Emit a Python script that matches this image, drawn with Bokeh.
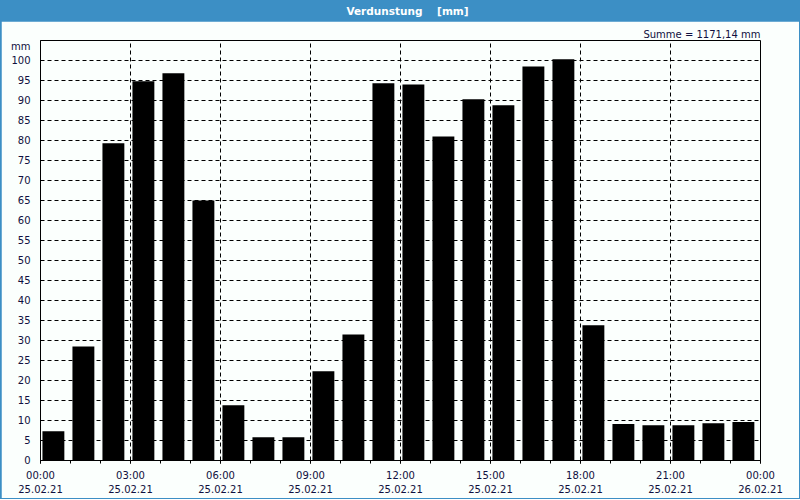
from bokeh.plotting import figure
from bokeh.layouts import column
from bokeh.models import Range1d, FixedTicker, LinearAxis
from bokeh.core.properties import value
from bokeh.embed import file_html
from bokeh.resources import INLINE

# ---- data ----
hours = list(range(24))
verdunstung = [7.3, 28.5, 79.3, 94.8, 96.8, 65.0, 13.8, 5.8, 5.8, 22.3, 31.5, 94.3,
               94.0, 81.0, 90.3, 88.8, 98.5, 100.3, 33.8, 9.1, 8.8, 8.8, 9.3, 9.6]
tick_hours = [0, 3, 6, 9, 12, 15, 18, 21, 24]
tick_times = ["00:00", "03:00", "06:00", "09:00", "12:00", "15:00", "18:00", "21:00", "00:00"]
tick_dates = ["25.02.21"] * 8 + ["26.02.21"]
y_ticks = list(range(0, 101, 5))
title_text = "Verdunstung\u00a0\u00a0\u00a0\u00a0[mm]"
summe_text = "Summe = 1171,14 mm"
unit_text = "mm"

BLUE = "#3c8fc5"
BG = "#fbfffd"
TXT = "#101040"
FONT = "DejaVu Sans"

# ---- title bar ----
top = figure(width=800, height=21, x_range=Range1d(0, 1), y_range=Range1d(0, 1),
             toolbar_location=None, output_backend="svg", min_border=0,
             background_fill_color=BLUE, border_fill_color=BLUE, outline_line_color=None)
top.axis.visible = False
top.grid.visible = False
top.text(x=[0.5], y=[0.5], text=[title_text], text_align="center", text_baseline="middle",
         text_color="white", text_font_style="bold", text_font=value(FONT),
         text_font_size="10.5px", x_offset=7)

# ---- main chart ----
p = figure(frame_width=720, frame_height=420,
           min_border_left=39, min_border_right=39, min_border_top=19, min_border_bottom=38,
           x_range=Range1d(0, 24), y_range=Range1d(0, 105),
           toolbar_location=None, output_backend="svg",
           background_fill_color=BG, border_fill_color=BG,
           outline_line_color="black", outline_line_width=1,
           title=summe_text, margin=(0, 1, 1, 1))
p.title.align = "right"
p.title.text_font = FONT
p.title.text_font_size = "10px"
p.title.text_font_style = "normal"
p.title.text_color = TXT
p.title.standoff = 2

bar_x = [h + 0.43 for h in hours]
p.vbar(x=bar_x, top=verdunstung, width=0.73, bottom=0,
       fill_color="black", line_color=None)

# grids
p.xgrid.ticker = FixedTicker(ticks=tick_hours[1:-1])
p.ygrid.ticker = FixedTicker(ticks=y_ticks[1:])
for g in (p.xgrid, p.ygrid):
    g.grid_line_color = "black"
    g.grid_line_dash = "4 3"
    g.grid_line_width = 1

# x axis (times)
xa = p.xaxis[0]
xa.ticker = FixedTicker(ticks=tick_hours, minor_ticks=hours + [24])
xa.major_label_overrides = {h: t for h, t in zip(tick_hours, tick_times)}
xa.major_tick_out = 3
xa.major_tick_in = 0
xa.minor_tick_out = 3
xa.minor_tick_in = 0
xa.axis_line_color = "black"
xa.major_label_standoff = 6
xa.major_label_text_font = FONT
xa.major_label_text_font_size = "10px"
xa.major_label_text_color = TXT

# x axis (dates)
xa2 = LinearAxis(ticker=FixedTicker(ticks=tick_hours, minor_ticks=[]))
xa2.major_label_overrides = {h: d for h, d in zip(tick_hours, tick_dates)}
xa2.axis_line_color = None
xa2.major_tick_line_color = None
xa2.minor_tick_line_color = None
xa2.major_tick_out = 0
xa2.major_tick_in = 0
xa2.minor_tick_out = 0
xa2.minor_tick_in = 0
xa2.major_label_standoff = 1
xa2.major_label_text_font = FONT
xa2.major_label_text_font_size = "10px"
xa2.major_label_text_color = TXT
p.add_layout(xa2, "below")

# y axis
ya = p.yaxis[0]
ya.ticker = FixedTicker(ticks=y_ticks + [103.5], minor_ticks=[])
ya.major_label_overrides = {103.5: unit_text}
ya.major_tick_line_color = None
ya.minor_tick_line_color = None
ya.axis_line_color = "black"
ya.major_label_standoff = 4
ya.major_label_text_font = FONT
ya.major_label_text_font_size = "10px"
ya.major_label_text_color = TXT

layout = column(top, p, spacing=0, styles={"background-color": BLUE})

open("out.html", "w").write(file_html(layout, INLINE))
